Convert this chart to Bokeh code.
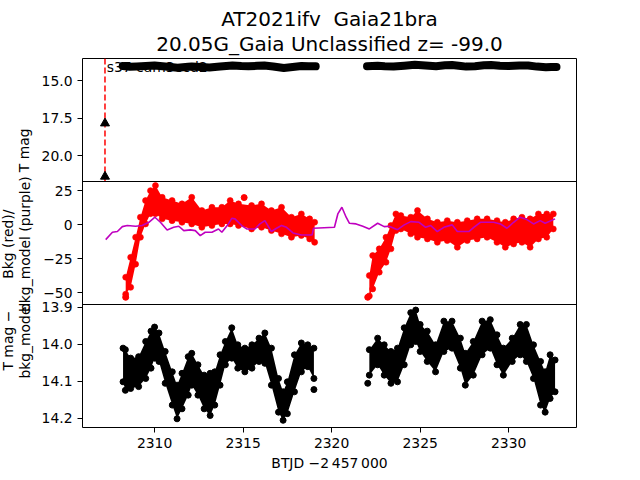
import math
from bokeh.plotting import figure
from bokeh.layouts import row
from bokeh.models import (Range1d, FixedTicker, Span, Title, CustomJSTickFormatter)
from bokeh.core.properties import value
from bokeh.embed import file_html
from bokeh.resources import INLINE

# ---------------- data ----------------
title_1 = "AT2021ifv\u00a0 Gaia21bra"
title_2 = "20.05G_Gaia Unclassified z= -99.0"
sector_label = "s37 cam3ccd2"
x_label = "BTJD \u22122\u2009457\u2009000"
y_label_top = "T mag"
y_label_mid = "Bkg (red)/\nbkg_model (purple)"
y_label_bot = "T mag \u2212\nbkg_model"

x_ticks = [2310, 2315, 2320, 2325, 2330]
x_tick_labels = ["2310", "2315", "2320", "2325", "2330"]
top_ticks = [15.0, 17.5, 20.0]
top_tick_labels = ["15.0", "17.5", "20.0"]
mid_ticks = [25, 0, -25, -50]
mid_tick_labels = ["25", "0", "\u221225", "\u221250"]
bot_ticks = [13.9, 14.0, 14.1, 14.2]
bot_tick_labels = ["13.9", "14.0", "14.1", "14.2"]

# panel limits (bottom value, top value)
top_lim = (21.73, 13.53)
mid_lim = (-58.6, 31.6)
bot_lim = (14.2255, 13.893)
x_lim = (2305.93, 2333.83)

# discovery epoch and upper limits (top panel)
disc_t = 2307.2
limit_t = [2307.2, 2307.2]
limit_mag = [17.85, 21.4]
label_t = 2307.3
label_mag = 13.56

# top panel: T mag light curve (two orbits)
top_t_a = [2308.2, 2308.6, 2309.0, 2309.5, 2310.0, 2310.6, 2311.3, 2311.9, 2312.1, 2312.6,
           2313.1, 2313.7, 2314.4, 2314.9, 2315.3, 2315.8, 2316.2, 2316.7, 2317.3, 2317.8,
           2318.3, 2318.7, 2319.1]
top_mag_a = [14.03, 14.08, 14.06, 14.03, 13.99, 14.06, 14.14, 14.08, 14.06, 14.10,
             14.13, 14.06, 13.99, 14.03, 14.05, 14.02, 14.00, 14.06, 14.16, 14.10,
             14.03, 14.04, 14.05]
top_t_b = [2322.0, 2322.6, 2323.0, 2323.5, 2324.1, 2324.7, 2325.3, 2325.9, 2326.4, 2326.8,
           2327.3, 2327.6, 2328.1, 2328.6, 2329.0, 2329.5, 2330.0, 2330.6, 2331.1, 2331.6,
           2332.1, 2332.4, 2332.7]
top_mag_b = [14.05, 14.02, 14.05, 14.07, 14.01, 13.95, 14.00, 14.04, 13.98, 13.97,
             14.03, 14.07, 14.04, 13.98, 13.97, 14.02, 14.03, 13.99, 14.00, 14.07,
             14.12, 14.09, 14.09]

# middle panel: background flux (red band, upper/lower envelope)
bkg_t_a = [2308.37, 2308.65, 2308.93, 2309.2, 2309.49, 2309.77, 2310.05, 2310.43, 2310.99,
           2311.55, 2312.1, 2312.67, 2313.24, 2313.8, 2314.27, 2314.74, 2315.48, 2316.04,
           2316.6, 2317.17, 2317.73, 2318.29, 2318.76, 2319.04]
bkg_hi_a = [-38.6, -24.0, -9.3, 5.4, 17.6, 24.9, 28.6, 20.0, 17.6,
            15.2, 20.0, 10.3, 12.7, 12.7, 17.6, 15.2, 14.0, 15.2,
            10.3, 12.7, 5.4, 7.8, 4.2, 1.7]
bkg_lo_a = [-51.0, -46.0, -29.0, -9.3, 0.5, 8.0, 8.0, 4.2, 2.9,
            1.7, 0.5, -2.0, -0.7, 0.5, 0.5, -0.7, -3.2, -2.0,
            -4.4, -6.8, -9.3, -8.0, -10.5, -13.0]
bkg_t_b = [2322.13, 2322.32, 2322.69, 2323.07, 2323.35, 2323.63, 2323.91, 2324.47, 2324.85,
           2325.41, 2325.97, 2326.53, 2327.1, 2327.66, 2328.22, 2328.78, 2329.34, 2329.81,
           2330.28, 2330.75, 2331.21, 2331.68, 2332.15, 2332.52]
bkg_hi_b = [-37.4, -22.7, -17.8, -9.3, -0.7, 7.8, 6.6, 5.4, 10.3,
            4.2, 1.7, 2.9, 1.7, 2.9, 4.2, 4.2, 2.9, 1.7,
            4.2, 5.4, 4.2, 7.8, 7.8, 7.8]
bkg_lo_b = [-52.3, -47.2, -34.9, -27.6, -17.8, -4.4, -3.2, -6.8, -9.3,
            -10.5, -13.0, -11.7, -16.6, -11.7, -10.5, -9.3, -13.0, -16.6,
            -14.2, -13.0, -16.6, -10.5, -9.3, -3.2]
bkg_out_t = [2308.37, 2322.04, 2315.06]
bkg_out_v = [-53.3, -53.3, 19.8]

# middle panel: background model (purple line)
model_t = [2307.24, 2307.62, 2307.9, 2308.18, 2308.46, 2308.93, 2309.3, 2309.68, 2310.02,
           2310.33, 2310.71, 2311.08, 2311.37, 2311.65, 2312.02, 2312.3, 2312.58, 2312.86,
           2313.24, 2313.61, 2313.8, 2314.17, 2314.36, 2314.54, 2314.92, 2315.2, 2315.67,
           2315.95, 2316.23, 2316.6, 2316.89, 2317.17, 2317.45, 2317.82, 2318.29, 2318.9,
           2318.98, 2320.16, 2320.35, 2320.58, 2320.82, 2321.0, 2321.38, 2321.76, 2322.13,
           2322.6, 2322.97, 2323.25, 2323.72, 2324.1, 2324.47, 2324.94, 2325.31, 2325.6,
           2325.97, 2326.34, 2326.81, 2327.1, 2327.75, 2328.03, 2328.4, 2329.15, 2329.53,
           2329.9, 2330.28, 2330.65, 2331.03, 2331.4, 2331.78, 2332.06, 2332.62]
model_v = [-11.0, -5.6, -5.1, -1.5, -0.7, -1.2, -0.7, 1.7, 5.4,
           1.7, -3.9, -2.0, -1.2, -4.4, -3.9, -4.4, -8.1, -5.6,
           -5.6, -3.2, -5.6, 0.5, 4.6, 4.2, -0.7, -3.2, -3.2,
           0.5, 2.9, -5.1, -2.7, -0.7, -2.0, -6.1, -7.6, -7.6,
           -2.7, -2.0, 7.8, 12.7, 5.4, 1.0, 0.5, -1.2, -3.2,
           1.0, -1.5, -1.2, -3.7, -0.2, 2.2, 1.7, -2.0, -0.7,
           -5.1, -2.0, -0.2, -5.1, -5.1, -2.0, 1.7, 1.7, 0.5,
           -2.7, 1.7, 5.4, 3.7, 0.5, 2.9, 1.0, 4.2]

# bottom panel: T mag - bkg_model (black band, upper/lower envelope, mag)
cor_t_a = [2308.22, 2308.35, 2308.65, 2309.1, 2309.5, 2309.8, 2310.0, 2310.25, 2310.6,
           2311.0, 2311.27, 2311.55, 2311.9, 2312.1, 2312.45, 2312.8, 2313.14, 2313.4,
           2313.7, 2314.0, 2314.36, 2314.7, 2315.1, 2315.5, 2315.9, 2316.23, 2316.6,
           2317.0, 2317.26, 2317.5, 2317.9, 2318.29, 2318.65, 2319.0]
cor_hi_a = [14.011, 14.015, 14.038, 14.034, 13.993, 13.965, 13.954, 13.970, 14.020,
            14.075, 14.111, 14.079, 14.034, 14.025, 14.056, 14.084, 14.079, 14.075,
            14.029, 13.993, 13.956, 14.002, 14.011, 14.002, 13.984, 13.970, 14.011,
            14.093, 14.129, 14.102, 14.029, 13.997, 14.002, 14.011]
cor_lo_a = [14.102, 14.125, 14.120, 14.115, 14.093, 14.065, 14.038, 14.047, 14.106,
            14.165, 14.202, 14.175, 14.138, 14.111, 14.138, 14.175, 14.193, 14.165,
            14.111, 14.056, 14.038, 14.065, 14.075, 14.065, 14.047, 14.052, 14.111,
            14.184, 14.206, 14.188, 14.129, 14.075, 14.061, 14.093]
cor_t_b = [2322.13, 2322.6, 2322.97, 2323.35, 2323.72, 2324.1, 2324.47, 2324.75, 2325.0,
           2325.4, 2325.87, 2326.34, 2326.8, 2327.27, 2327.55, 2328.0, 2328.5, 2328.96,
           2329.34, 2329.7, 2330.2, 2330.65, 2331.0, 2331.4, 2331.8, 2332.06, 2332.34, 2332.62]
cor_hi_b = [14.015, 13.984, 14.002, 14.020, 14.011, 13.956, 13.915, 13.908, 13.947,
            13.965, 14.002, 13.938, 13.938, 13.984, 14.025, 13.993, 13.938, 13.934,
            13.975, 14.011, 13.984, 13.947, 13.947, 14.002, 14.047, 14.075, 14.029, 14.043]
cor_lo_b = [14.084, 14.056, 14.084, 14.106, 14.102, 14.056, 14.002, 13.993, 14.020,
            14.047, 14.075, 14.020, 14.011, 14.065, 14.111, 14.084, 14.029, 14.011,
            14.056, 14.084, 14.047, 14.029, 14.047, 14.093, 14.165, 14.184, 14.147, 14.129]
cor_out_t = [2322.04, 2319.0]
cor_out_v = [14.106, 14.123]

# ---------------- layout ----------------
FONT = "DejaVu Sans"
TXT = "13.9px"
LABEL_W = 38

# one frame split in three stacked panels: panel k occupies [k, k+1] of the base range
def panel_range(lim, k):
    lo, hi = lim
    span = hi - lo
    return Range1d(lo - k * span, hi + (2 - k) * span)

def to_base(v, lim, k):
    lo, hi = lim
    return k + (v - lo) / (hi - lo)

p = figure(width=640 - LABEL_W, height=480, x_range=Range1d(*x_lim), y_range=Range1d(0, 3),
           output_backend="svg", toolbar_location=None,
           min_border_left=80 - LABEL_W, min_border_right=64, min_border_top=58,
           min_border_bottom=53)
p.extra_y_ranges = {"top": panel_range(top_lim, 2), "mid": panel_range(mid_lim, 1),
                    "bot": panel_range(bot_lim, 0)}
p.grid.visible = False
p.outline_line_color = "black"
p.outline_line_width = 1
p.outline_line_alpha = 1
p.background_fill_color = "white"
p.border_fill_color = "white"

for k in (1, 2):
    p.add_layout(Span(location=k, dimension="width", line_color="black", line_width=1))

tick_pos = ([to_base(v, bot_lim, 0) for v in bot_ticks] +
            [to_base(v, mid_lim, 1) for v in mid_ticks] +
            [to_base(v, top_lim, 2) for v in top_ticks])
tick_lab = bot_tick_labels + mid_tick_labels + top_tick_labels
ya = p.yaxis[0]
ya.ticker = FixedTicker(ticks=tick_pos)
ya.formatter = CustomJSTickFormatter(args=dict(pos=tick_pos, labels=tick_lab), code="""
let best = 0, bd = 1e9;
for (let i = 0; i < pos.length; i++) {
  const d = Math.abs(pos[i] - tick);
  if (d < bd) { bd = d; best = i; }
}
return labels[best];
""")
for ax in (ya, p.xaxis[0]):
    ax.minor_tick_line_color = None
    ax.major_tick_out = 5
    ax.major_tick_in = 0
    ax.major_tick_line_color = "black"
    ax.axis_line_color = None
    ax.major_label_text_font = FONT
    ax.major_label_text_font_size = TXT
    ax.major_label_text_color = "black"
    ax.major_label_standoff = 5

xa = p.xaxis[0]
xa.ticker = FixedTicker(ticks=x_ticks)
xa.major_label_overrides = {t: l for t, l in zip(x_ticks, x_tick_labels)}
xa.axis_label = x_label
xa.axis_label_text_font = FONT
xa.axis_label_text_font_size = TXT
xa.axis_label_text_font_style = "normal"
xa.axis_label_text_color = "black"
xa.axis_label_standoff = 4

p.add_layout(Title(text=title_2, align="center", text_font=FONT, text_font_size="20px",
                   text_font_style="normal", text_color="black", standoff=5), "above")
p.add_layout(Title(text=title_1, align="center", text_font=FONT, text_font_size="20px",
                   text_font_style="normal", text_color="black", standoff=-6), "above")

# ---- top panel
p.segment(x0=[disc_t], y0=[top_lim[0]], x1=[disc_t], y1=[top_lim[1]], y_range_name="top",
          line_color="red", line_dash="6 3", line_width=1.5)
p.text(x=[label_t], y=[label_mag], text=[sector_label], text_font=value(FONT),
       text_font_size=TXT, text_color="black", text_baseline="top", text_align="left",
       y_range_name="top")
for tt, mm in ((top_t_a, top_mag_a), (top_t_b, top_mag_b)):
    p.line(tt, mm, line_color="black", line_width=8, line_cap="round", line_join="round",
           y_range_name="top")
p.scatter(limit_t, limit_mag, marker="triangle", size=9, fill_color="black",
          line_color="black", y_range_name="top")

# ---- middle panel
for tt, hi, lo in ((bkg_t_a, bkg_hi_a, bkg_lo_a), (bkg_t_b, bkg_hi_b, bkg_lo_b)):
    p.varea(x=tt, y1=lo, y2=hi, fill_color="red", y_range_name="mid")
    p.scatter(tt, hi, size=6, fill_color="red", line_color="red", line_alpha=0.6,
              y_range_name="mid")
    p.scatter(tt, lo, size=6, fill_color="red", line_color="red", line_alpha=0.6,
              y_range_name="mid")
p.scatter(bkg_out_t, bkg_out_v, size=6, fill_color="red", line_color="red",
          y_range_name="mid")
p.line(model_t, model_v, line_color="#BF00BF", line_width=1.6, y_range_name="mid")

# ---- bottom panel
for tt, hi, lo in ((cor_t_a, cor_hi_a, cor_lo_a), (cor_t_b, cor_hi_b, cor_lo_b)):
    p.varea(x=tt, y1=lo, y2=hi, fill_color="black", y_range_name="bot")
    p.scatter(tt, hi, size=6, fill_color="black", line_color="black", y_range_name="bot")
    p.scatter(tt, lo, size=6, fill_color="black", line_color="black", y_range_name="bot")
p.scatter(cor_out_t, cor_out_v, size=6, fill_color="black", line_color="black",
          y_range_name="bot")

# ---- y labels in a narrow strip left of the panels (pixel coordinates, y up)
lab = figure(width=LABEL_W, height=480, x_range=Range1d(0, LABEL_W), y_range=Range1d(0, 480),
             output_backend="svg", toolbar_location=None,
             min_border_left=0, min_border_right=0, min_border_top=0, min_border_bottom=0)
lab.axis.visible = False
lab.grid.visible = False
lab.outline_line_color = None
lab.background_fill_color = "white"
lab.border_fill_color = "white"
mid_lines = y_label_mid.split("\n")
bot_lines = y_label_bot.split("\n")
ylab_text = [y_label_top] + mid_lines + bot_lines
ylab_x = [23, 7, 24, 7, 24]
ylab_y = [480 - 119.5, 480 - 241.5, 480 - 241.5, 480 - 367.0, 480 - 367.0]
lab.text(x=ylab_x, y=ylab_y, text=ylab_text, angle=math.pi / 2, text_align="center",
         text_baseline="middle", text_font=value(FONT), text_font_size=TXT,
         text_color="black")

layout = row(lab, p, spacing=0)
open("out.html", "w").write(file_html(layout, INLINE))
